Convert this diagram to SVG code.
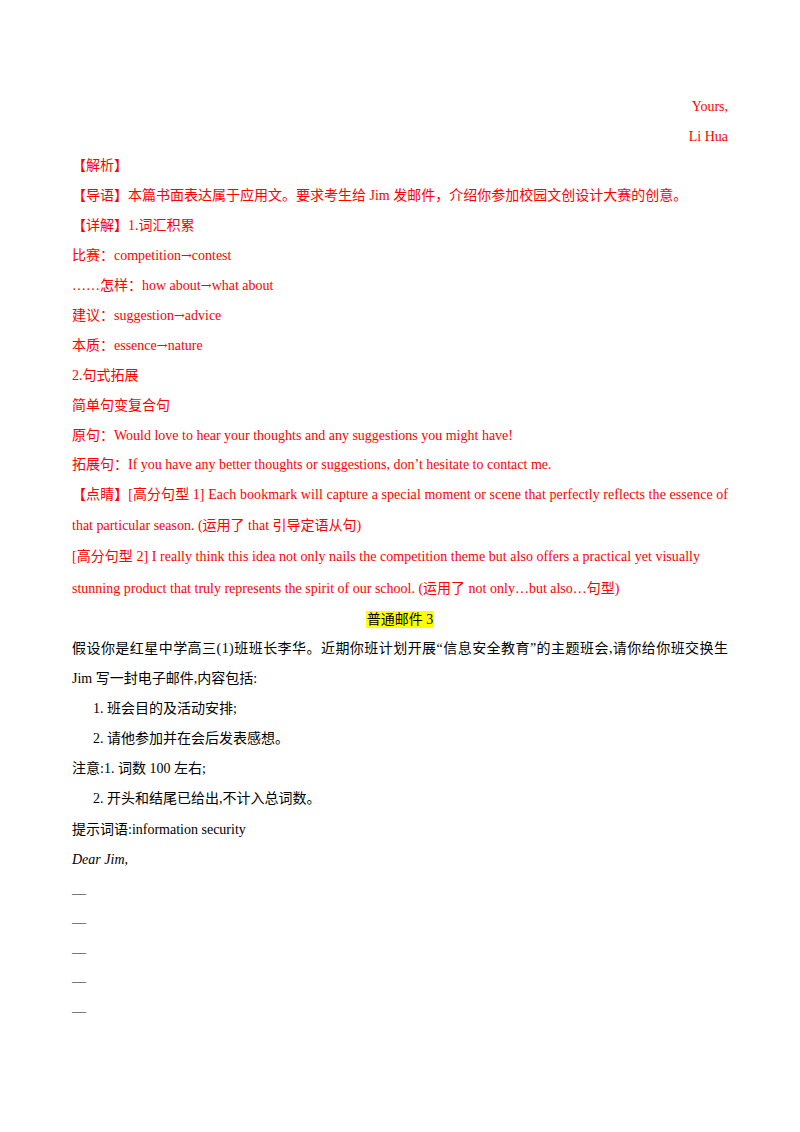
<svg xmlns="http://www.w3.org/2000/svg" width="800" height="1132" viewBox="0 0 800 1132">
<style>
text{font-family:"Liberation Serif","Noto Sans CJK SC",serif;font-size:14px;fill:#000}
.r{fill:#ff0000}
.e{text-anchor:end}
.a{font-family:"DejaVu Serif",serif;font-size:13px}
</style>
<rect width="800" height="1132" fill="#fff"/>
<g id="answer">
<text class="r e" x="728" y="111">Yours,</text>
<text class="r e" x="728" y="141">Li Hua</text>
<text class="r" x="72" y="170">【解析】</text>
<text class="r" x="72" y="200">【导语】本篇书面表达属于应用文。要求考生给 Jim 发邮件，介绍你参加校园文创设计大赛的创意。</text>
<text class="r" x="72" y="230">【详解】1.词汇积累</text>
<text class="r" x="72" y="260">比赛：competition<tspan class="a">→</tspan>contest</text>
<text class="r" x="72" y="290">……怎样：how about<tspan class="a">→</tspan>what about</text>
<text class="r" x="72" y="320">建议：suggestion<tspan class="a">→</tspan>advice</text>
<text class="r" x="72" y="350">本质：essence<tspan class="a">→</tspan>nature</text>
<text class="r" x="72" y="380">2.句式拓展</text>
<text class="r" x="72" y="410">简单句变复合句</text>
<text class="r" x="72" y="440">原句：Would love to hear your thoughts and any suggestions you might have!</text>
<text class="r" x="72" y="469">拓展句：If you have any better thoughts or suggestions, don’t hesitate to contact me.</text>
<text class="r" x="72" y="499" textLength="656" lengthAdjust="spacing">【点睛】[高分句型 1] Each bookmark will capture a special moment or scene that perfectly reflects the essence of</text>
<text class="r" x="72" y="530">that particular season. (运用了 that 引导定语从句)</text>
<text class="r" x="72" y="561" textLength="628" lengthAdjust="spacing">[高分句型 2] I really think this idea not only nails the competition theme but also offers a practical yet visually</text>
<text class="r" x="72" y="593">stunning product that truly represents the spirit of our school. (运用了 not only…but also…句型)</text>
</g>
<g id="task">
<rect x="366" y="611" width="68" height="17" fill="#ffff00"/>
<text x="400" y="624" text-anchor="middle">普通邮件 3</text>
<text x="72" y="653" textLength="656" lengthAdjust="spacing">假设你是红星中学高三(1)班班长李华。近期你班计划开展“信息安全教育”的主题班会,请你给你班交换生</text>
<text x="72" y="683">Jim 写一封电子邮件,内容包括:</text>
<text x="93" y="713">1.  班会目的及活动安排;</text>
<text x="93" y="743">2.  请他参加并在会后发表感想。</text>
<text x="72" y="773">注意:1.  词数 100 左右;</text>
<text x="93" y="803">2.  开头和结尾已给出,不计入总词数。</text>
<text x="72" y="834">提示词语:information security</text>
<text x="72" y="864" font-style="italic">Dear Jim,</text>
<text x="72" y="898">—</text>
<text x="72" y="927">—</text>
<text x="72" y="957">—</text>
<text x="72" y="986">—</text>
<text x="72" y="1016">—</text>
</g>
</svg>
